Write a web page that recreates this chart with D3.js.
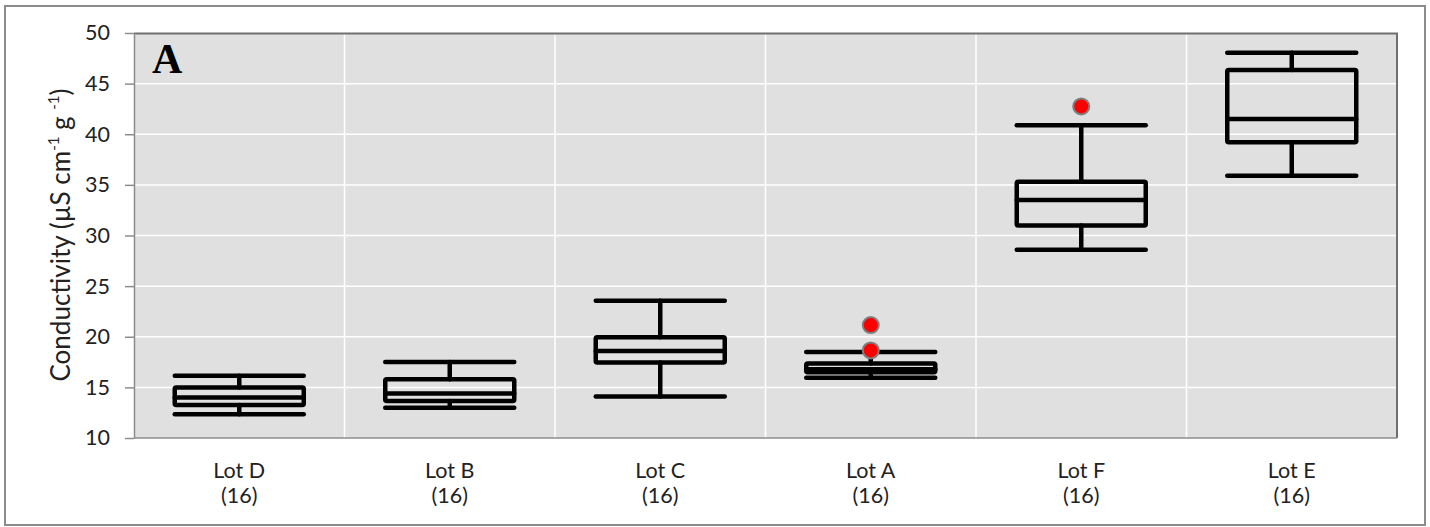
<!DOCTYPE html>
<html>
<head>
<meta charset="utf-8">
<script src="https://cdn.jsdelivr.net/npm/d3@7"></script>
<style>
  body { margin: 0; background: #fff; }
  svg { display: block; }
</style>
</head>
<body>
<div id="chart"></div>
<script>
// data
const lots = ["Lot D", "Lot B", "Lot C", "Lot A", "Lot F", "Lot E"];
const counts = [16, 16, 16, 16, 16, 16];
const whiskerLow = [12.35, 13.0, 14.1, 15.95, 28.6, 35.9];
const q1 = [13.25, 13.65, 17.45, 16.5, 31.0, 39.2];
const median = [14.0, 14.4, 18.6, 16.8, 33.5, 41.5];
const q3 = [15.0, 15.8, 19.95, 17.35, 35.3, 46.35];
const whiskerHigh = [16.15, 17.5, 23.55, 18.5, 40.9, 48.05];
const outliers = [[], [], [], [21.15, 18.65], [42.75], []];
const yTicks = [10, 15, 20, 25, 30, 35, 40, 45, 50];

const W = 1430, H = 527;
const margin = { top: 33, right: 33, bottom: 89, left: 134 },
  width = W - margin.left - margin.right,
  height = H - margin.top - margin.bottom;

const root = d3.select("#chart")
  .append("svg")
  .attr("width", W)
  .attr("height", H);

// outer frame
root.append("rect")
  .attr("x", 5).attr("y", 6)
  .attr("width", 1420).attr("height", 519)
  .attr("fill", "#fff")
  .attr("stroke", "#8c8c8c")
  .attr("stroke-width", 2);

const svg = root.append("g")
  .attr("transform", `translate(${margin.left},${margin.top})`);

const x = d3.scaleBand().domain(lots).range([0, width]).padding(0);
const y = d3.scaleLinear().domain([10, 50]).range([height, 0]);

// plot background
svg.append("rect")
  .attr("width", width).attr("height", height)
  .attr("fill", "#e0e0e0");

// grid
svg.selectAll(".hgrid")
  .data(yTicks.slice(1, -1))
  .join("line")
  .attr("x1", 0).attr("x2", width)
  .attr("y1", d => y(d)).attr("y2", d => y(d))
  .attr("stroke", "#fff").attr("stroke-width", 1.5);

svg.selectAll(".vgrid")
  .data(lots.slice(0, -1))
  .join("line")
  .attr("x1", d => x(d) + x.bandwidth()).attr("x2", d => x(d) + x.bandwidth())
  .attr("y1", 0).attr("y2", height)
  .attr("stroke", "#fff").attr("stroke-width", 1.5);

// top and right border of plot area
svg.append("path")
  .attr("d", `M0,0.5H${width}V${height}`)
  .attr("fill", "none")
  .attr("stroke", "#707070")
  .attr("stroke-width", 2);

// y axis
const yAxis = svg.append("g")
  .call(d3.axisLeft(y).tickValues(yTicks).tickSize(9).tickSizeOuter(0).tickPadding(15));
yAxis.select(".domain").attr("stroke", "#8c8c8c").attr("stroke-width", 1.5);
yAxis.selectAll(".tick line").attr("stroke", "#8c8c8c").attr("stroke-width", 1.5);
yAxis.selectAll(".tick text")
  .attr("fill", "#222")
  .style("font-family", "Lato, 'Open Sans', sans-serif")
  .style("font-size", "21.5px");

// x axis line
svg.append("line")
  .attr("x1", 0).attr("x2", width)
  .attr("y1", height).attr("y2", height)
  .attr("stroke", "#8c8c8c").attr("stroke-width", 1.5);

// x labels (two lines)
const xl = svg.selectAll(".xlab")
  .data(lots)
  .join("text")
  .attr("x", d => x(d) + x.bandwidth() / 2)
  .attr("y", height + 40)
  .attr("text-anchor", "middle")
  .attr("fill", "#222")
  .style("font-family", "Lato, 'Open Sans', sans-serif")
  .style("font-size", "21.5px");
xl.append("tspan").text(d => d);
xl.append("tspan")
  .attr("x", d => x(d) + x.bandwidth() / 2)
  .attr("dy", 25)
  .text((d, i) => `(${counts[i]})`);

// boxes
const boxW = 129;
const boxes = svg.selectAll(".box")
  .data(lots)
  .join("g")
  .attr("transform", d => `translate(${x(d) + x.bandwidth() / 2},0)`);

const ink = g => g.attr("stroke", "#000").attr("stroke-width", 4.5)
  .attr("stroke-linecap", "round").attr("fill", "none");

// stems
boxes.append("line")
  .attr("y1", (d, i) => y(whiskerHigh[i])).attr("y2", (d, i) => y(q3[i]))
  .call(ink);
boxes.append("line")
  .attr("y1", (d, i) => y(q1[i])).attr("y2", (d, i) => y(whiskerLow[i]))
  .call(ink);
// caps
boxes.append("line")
  .attr("x1", -boxW / 2).attr("x2", boxW / 2)
  .attr("y1", (d, i) => y(whiskerHigh[i])).attr("y2", (d, i) => y(whiskerHigh[i]))
  .call(ink);
boxes.append("line")
  .attr("x1", -boxW / 2).attr("x2", boxW / 2)
  .attr("y1", (d, i) => y(whiskerLow[i])).attr("y2", (d, i) => y(whiskerLow[i]))
  .call(ink);
// box
boxes.append("rect")
  .attr("x", -boxW / 2).attr("width", boxW)
  .attr("y", (d, i) => y(q3[i]))
  .attr("height", (d, i) => y(q1[i]) - y(q3[i]))
  .attr("rx", 1.5)
  .call(ink)
  .attr("stroke-linejoin", "round");
// median
boxes.append("line")
  .attr("x1", -boxW / 2).attr("x2", boxW / 2)
  .attr("y1", (d, i) => y(median[i])).attr("y2", (d, i) => y(median[i]))
  .call(ink);

// outliers
boxes.selectAll("circle")
  .data((d, i) => outliers[i])
  .join("circle")
  .attr("cy", v => y(v))
  .attr("r", 8)
  .attr("fill", "#ff0000")
  .attr("stroke", "#7f7f7f")
  .attr("stroke-width", 2);

// panel letter
svg.append("text")
  .attr("x", 18).attr("y", 40)
  .text("A")
  .style("font-family", "'Liberation Serif', 'Times New Roman', serif")
  .style("font-weight", "bold")
  .style("font-size", "42px");

// y axis title
const yt = root.append("text")
  .attr("transform", `translate(70,235) rotate(-90)`)
  .attr("text-anchor", "middle")
  .attr("fill", "#222")
  .style("font-family", "Lato, 'Open Sans', sans-serif")
  .style("font-size", "26px");
yt.append("tspan").text("Conductivity (µS cm");
yt.append("tspan").attr("dy", -11).style("font-size", "15px").text("-1");
yt.append("tspan").attr("dy", 11).text(" g ");
yt.append("tspan").attr("dy", -11).style("font-size", "15px").text("-1");
yt.append("tspan").attr("dy", 11).text(")");
</script>
</body>
</html>
